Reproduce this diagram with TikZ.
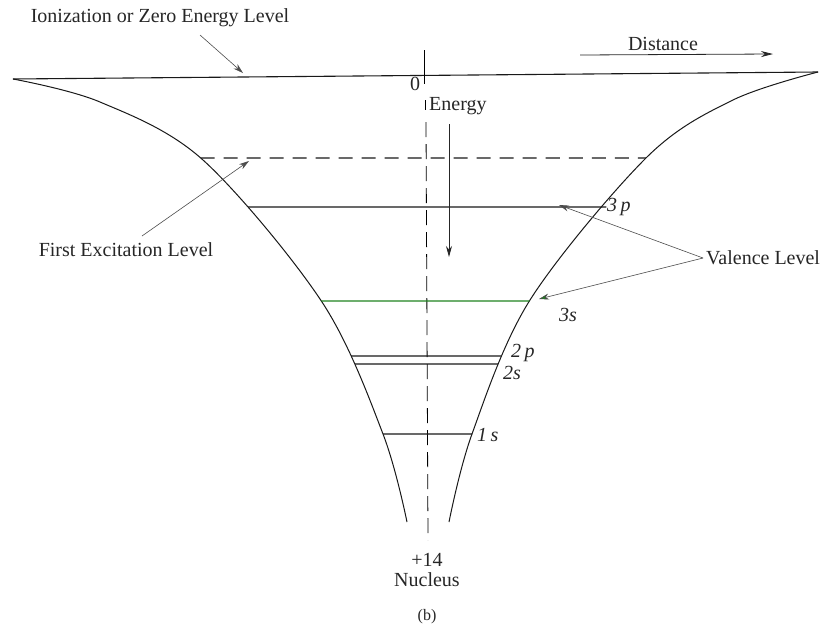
\documentclass[tikz,border=0pt]{standalone}
\usepackage{fontspec}
\setmainfont{Liberation Serif}
\usetikzlibrary{arrows.meta,intersections}
\definecolor{scangreen}{RGB}{30,130,30}
\tikzset{
  curve/.style={line width=1pt, black!90},
  level/.style={line width=1.1pt, black!90},
  ptr/.style={line width=0.6pt, black!70, -{Stealth[length=10pt,width=6pt]}},
  lbl/.style={font=\fontsize{20}{23}\selectfont, inner sep=0pt, text=black!85},
  orb/.style={font=\fontsize{20}{23}\selectfont\itshape, inner sep=0pt, anchor=west, text=black!85},
}
\begin{document}
\begin{tikzpicture}[x=1pt,y=-1pt]
\useasboundingbox (0,0) rectangle (830,627);
% zero level
\coordinate (z0) at (13,79);
\coordinate (z1) at (818,72);
\draw[level] (z0) -- (z1);
% well walls
\draw[curve, name path=lw] plot[smooth, tension=0.55] coordinates {(13,79) (100,102) (203,160) (322,302) (383,434) (407,522)};
\draw[curve, name path=rw] plot[smooth, tension=0.55] coordinates {(818,72) (733,100) (647,157) (530,300) (472,434) (449,522)};
% level end points
\foreach \nm/\yy in {ex/158,pt/207,st/301,pp/356,ss/364,so/434}{
  \path[name path=h\nm] (0,\yy) -- (830,\yy);
  \path[name intersections={of=lw and h\nm, by={\nm a}}];
  \path[name intersections={of=rw and h\nm, by={\nm b}}];
}
% axis
\coordinate (a0) at (424,50);
\coordinate (a1) at (424,84);
\coordinate (a2) at (425,100);
\coordinate (a3) at (425,110);
\coordinate (a4) at (426,122);
\coordinate (a5) at (428,540);
\draw[line width=0.9pt] (a0) -- (a1);
\draw[line width=0.8pt] (a2) -- (a3);
\draw[line width=0.8pt, dash pattern=on 15pt off 7pt] (a4) -- (a5);
% levels
\draw[level, dash pattern=on 14pt off 9pt] (exa) -- (exb);
\draw[level] (pta) -- ([xshift=5pt]ptb);
\draw[level, scangreen] (sta) -- (stb);
\draw[level] (ppa) -- (ppb);
\draw[level] (ssa) -- (ssb);
\draw[level] (soa) -- (sob);
% energy arrow
\coordinate (e0) at (449,124);
\coordinate (e1) at (449,257);
\draw[line width=0.8pt, black!85, -{Stealth[length=11pt,width=6pt]}] (e0) -- (e1);
% distance arrow
\coordinate (d0) at (580,55);
\coordinate (d1) at (773,54);
\draw[line width=0.8pt, black!85, -{Stealth[length=12pt,width=6pt]}] (d0) -- (d1);
% labels
\node[lbl] (ion) at (160,18) {Ionization or Zero Energy Level};
\node[lbl] (dist) at (663,44) {Distance};
\node[lbl] (zero) at (415,84) {0};
\node[lbl, anchor=west] (energy) at (429,106) {Energy};
\node[lbl] (fel) at (126,250) {First Excitation Level};
\node[lbl, anchor=west] (val) at (706,258) {Valence Level};
\node[orb] (l3p) at (607,207) {3\,p};
\node[orb] (l3s) at (559,315) {3s};
\node[orb] (l2p) at (511,353) {2\,p};
\node[orb] (l2s) at (503,373) {2s};
\node[orb] (l1s) at (477,435) {1\,s};
\node[lbl] (z14) at (427,560) {+14};
\node[lbl] (nuc) at (427,580) {Nucleus};
\node[lbl, font=\fontsize{16}{18}\selectfont] (b) at (427,617) {(b)};
% pointers
\coordinate (ionstart) at (200,35);
\coordinate (iontip) at (243,73);
\draw[ptr] (ionstart) -- (iontip);
\coordinate (felstart) at (142,236);
\coordinate (feltip) at (249,161);
\draw[ptr] (felstart) -- (feltip);
\coordinate (vtip1) at (559,205);
\coordinate (vtip2) at (539,299);
\coordinate (vroot) at (703,258);
\draw[ptr] (vroot) -- (vtip1);
\draw[ptr, -{Stealth[length=10pt,width=6pt,fill=scangreen]}] (vroot) -- (vtip2);
\end{tikzpicture}
\end{document}
